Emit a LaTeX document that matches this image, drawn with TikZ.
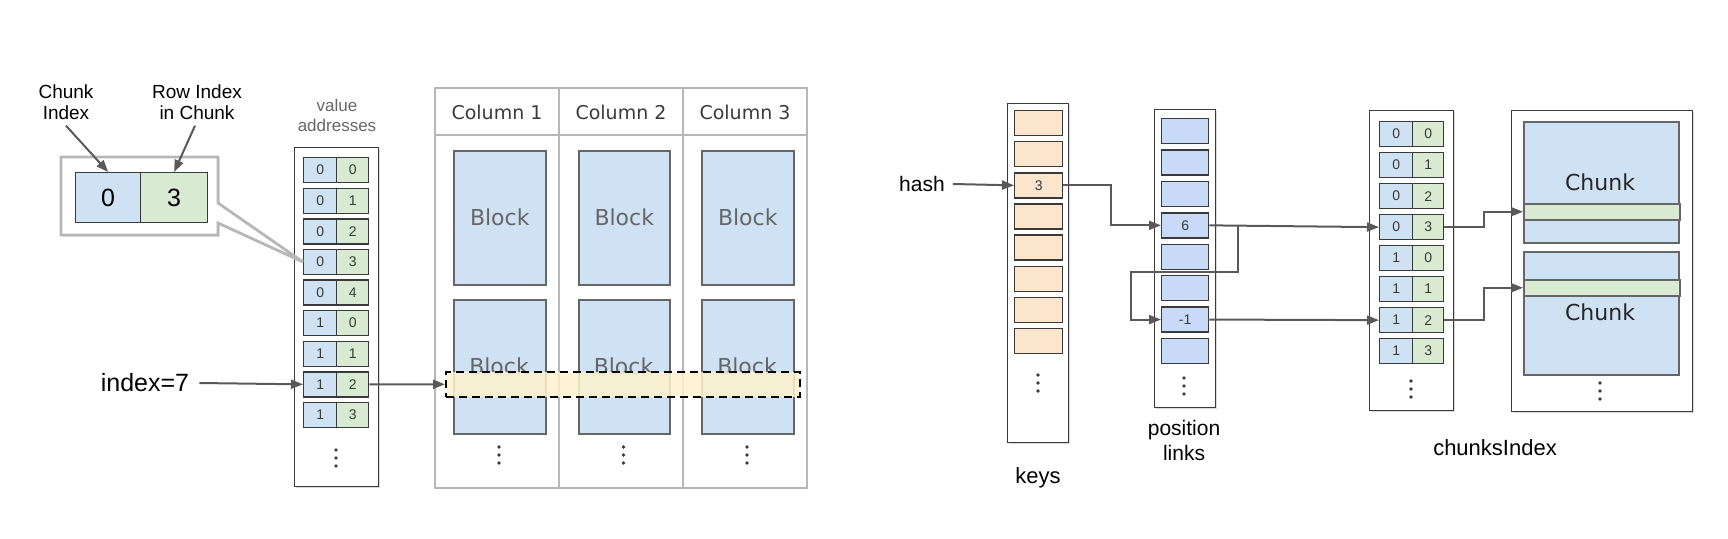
\documentclass[tikz,border=0pt]{standalone}
\usepackage{fontspec}
\setmainfont{Liberation Sans}
\newfontfamily\vfont{DejaVu Sans}
\usetikzlibrary{arrows.meta,shadows,calc}
\definecolor{cblue}{HTML}{CFE2F3}
\definecolor{cgreen}{HTML}{D9EAD3}
\definecolor{corange}{HTML}{FCE5CD}
\definecolor{cpos}{HTML}{C9DAF8}
\definecolor{cyel}{HTML}{FFF2CC}
\definecolor{cline}{HTML}{595959}
\definecolor{cgrid}{HTML}{B7B7B7}
\definecolor{ctext}{HTML}{666666}
\definecolor{cdark}{HTML}{3A3A3A}
\tikzset{
  cell/.style={draw=cdark, line width=1.3pt, anchor=north west, inner sep=0pt,
    minimum height=25pt, text=cdark, font=\fontsize{14}{14}\selectfont},
  container/.style={draw=cdark, line width=1.4pt, fill=white, anchor=north west, inner sep=0pt,
    drop shadow={shadow xshift=1.5pt, shadow yshift=-1.5pt, opacity=0.3}},
  blk/.style={draw=ctext, line width=1.5pt, fill=cblue, anchor=north west, inner sep=0pt},
  conn/.style={draw=cline, line width=2pt, -{Triangle[length=12pt,width=9pt]}},
  lbl/.style={align=center, text=black, inner sep=2pt},
  vd/.pic={\fill[cdark] (0,-8) circle[radius=1.9pt]; \fill[cdark] (0,0) circle[radius=1.9pt]; \fill[cdark] (0,8) circle[radius=1.9pt];}
}
\begin{document}
\begin{tikzpicture}[x=1pt,y=-1pt]
\useasboundingbox (0,0) rectangle (1728,538);

% ---------------- value addresses ----------------
\node[lbl, text=ctext, font=\fontsize{17}{20}\selectfont] (lva) at (337,115) {value\\addresses};
\node[container, minimum width=84pt, minimum height=339pt] (vbox) at (294,147) {};
\foreach \a/\b [count=\i from 0] in {0/0,0/1,0/2,0/3,0/4,1/0,1/1,1/2,1/3} {
  \pgfmathsetmacro\yy{157+30.6*\i}
  \node[cell, fill=cblue, minimum width=33pt] (vl\i) at (303,\yy) {\a};
  \node[cell, fill=cgreen, minimum width=32pt] (vr\i) at (336,\yy) {\b};
}
\pic at (336,458) {vd};

% ---------------- callout ----------------
\draw[draw=cgrid, line width=2.8pt, fill=white, line join=miter,
  drop shadow={shadow xshift=1.5pt, shadow yshift=-1.5pt, opacity=0.3}]
  (61,157) -- (218,157) -- (218,203) -- (vl3.west) -- (218,223) -- (218,235) -- (61,235) -- cycle;
\node[cell, fill=cblue, minimum width=65pt, minimum height=50pt, font=\fontsize{25}{25}\selectfont, text=black] (ci) at (75,172) {0};
\node[cell, fill=cgreen, minimum width=67pt, minimum height=50pt, font=\fontsize{25}{25}\selectfont, text=black] (rc) at (140,172) {3};
\node[lbl, font=\fontsize{19}{21}\selectfont] (lci) at (66,102) {Chunk\\Index};
\node[lbl, font=\fontsize{19}{21}\selectfont] (lri) at (197,102) {Row Index\\in Chunk};
\draw[conn] ($(lci.south)+(0,4)$) -- (ci.north);
\draw[conn] ($(lri.south)+(-2,4)$) -- (rc.north);

% ---------------- index=7 ----------------
\node[lbl, font=\fontsize{25}{25}\selectfont] (lidx) at (145,383) {index=7};
\draw[conn] ($(lidx.east)+(8,0)$) -- (vl7.west);

% ---------------- columns ----------------
\draw[cgrid, line width=2pt] (435,88) rectangle (807,488);
\draw[cgrid, line width=2pt] (435,135) -- (807,135);
\draw[cgrid, line width=2pt] (559,88) -- (559,488);
\draw[cgrid, line width=2pt] (683,88) -- (683,488);
\foreach \cx/\n in {497/1,621/2,745/3} {
  \node[font=\vfont\fontsize{19}{19}\selectfont, text=cdark] (hd\n) at (\cx,112) {Column \n};
}
\foreach \x/\w/\n in {453/92/1,578/91/2,701/92/3} {
  \node[blk, minimum width=\w pt, minimum height=134pt, font=\vfont\fontsize{22}{22}\selectfont, text=ctext] (ba\n) at (\x,150) {Block};
  \node[blk, minimum width=\w pt, minimum height=134pt] (bb\n) at (\x,299) {};
}
\foreach \cx in {499,623.5,747} {
  \node[font=\vfont\fontsize{22}{22}\selectfont, text=ctext] at (\cx,366) {Block};
  \pic at (\cx,455) {vd};
}
\node[draw=black, line width=1.6pt, dash pattern=on 8pt off 5pt, fill=cyel, fill opacity=0.85,
  draw opacity=1, anchor=north west, minimum width=354pt, minimum height=25pt, inner sep=0pt] (band) at (445,371) {};
\draw[conn] (vr7.east) -- (band.west);

% ---------------- keys ----------------
\node[container, minimum width=61pt, minimum height=339pt] (kbox) at (1007,103) {};
\foreach \t [count=\i from 0] in {{},{},3,{},{},{},{},{}} {
  \pgfmathsetmacro\yy{110+31.1*\i}
  \node[cell, fill=corange, minimum width=48pt] (k\i) at (1014,\yy) {\t};
}
\pic at (1038,383) {vd};
\node[lbl, font=\fontsize{22}{22}\selectfont] (lkeys) at (1038,478) {keys};
\node[lbl, font=\fontsize{21}{21}\selectfont] (lhash) at (922,184) {hash};
\draw[conn] ($(lhash.east)+(6,0)$) -- (k2.west);

% ---------------- position links ----------------
\node[container, minimum width=61pt, minimum height=298pt] (pbox) at (1154,109) {};
\foreach \t [count=\i from 0] in {{},{},{},6,{},{},-1,{}} {
  \pgfmathsetmacro\yy{118+31.4*\i}
  \node[cell, fill=cpos, minimum width=47pt] (p\i) at (1161,\yy) {\t};
}
\pic at (1184,386) {vd};
\node[lbl, font=\fontsize{21}{25}\selectfont] (lpos) at (1184,440) {position\\links};

% ---------------- chunksIndex ----------------
\node[container, minimum width=84pt, minimum height=300pt] (cbox) at (1369,110) {};
\foreach \a/\b [count=\i from 0] in {0/0,0/1,0/2,0/3,1/0,1/1,1/2,1/3} {
  \pgfmathsetmacro\yy{121+31*\i}
  \node[cell, fill=cblue, minimum width=33pt] (cl\i) at (1379,\yy) {\a};
  \node[cell, fill=cgreen, minimum width=31pt] (cr\i) at (1412,\yy) {\b};
}
\pic at (1411,389) {vd};
\node[lbl, font=\fontsize{22}{22}\selectfont] (lci2) at (1495,448) {chunksIndex};

% ---------------- chunks ----------------
\node[container, minimum width=181pt, minimum height=301pt] (chbox) at (1511,110) {};
\node[blk, minimum width=155pt, minimum height=121pt] (ch1) at (1523,121) {};
\node[blk, minimum width=155pt, minimum height=123pt] (ch2) at (1523,251) {};
\node[font=\vfont\fontsize{22}{22}\selectfont, text=black!85] (cht1) at (1600,182) {Chunk};
\node[font=\vfont\fontsize{22}{22}\selectfont, text=black!85] (cht2) at (1600,312) {Chunk};
\node[draw=ctext, line width=1.5pt, fill=cgreen, anchor=north west, inner sep=0pt, minimum width=156pt, minimum height=16pt] (s1) at (1523,203) {};
\node[draw=ctext, line width=1.5pt, fill=cgreen, anchor=north west, inner sep=0pt, minimum width=156pt, minimum height=16pt] (s2) at (1523,279) {};
\pic at (1600,391) {vd};

% ---------------- connectors right ----------------
\coordinate (jx) at (1238,0);
\coordinate (kx) at (1131,272);
\draw[conn] (k2.east) -- ++(48,0) |- (p3.west);
\draw[conn] (p3.east) -- (cl3.west);
\draw[conn] (p3.east -| jx) |- (kx) |- (p6.west);
\draw[conn] (p6.east) -- (cl6.west);
\draw[conn] (cr3.east) -- ++(40,0) |- (s1.west);
\draw[conn] (cr6.east) -- ++(40,0) |- (s2.west);
\end{tikzpicture}
\end{document}
